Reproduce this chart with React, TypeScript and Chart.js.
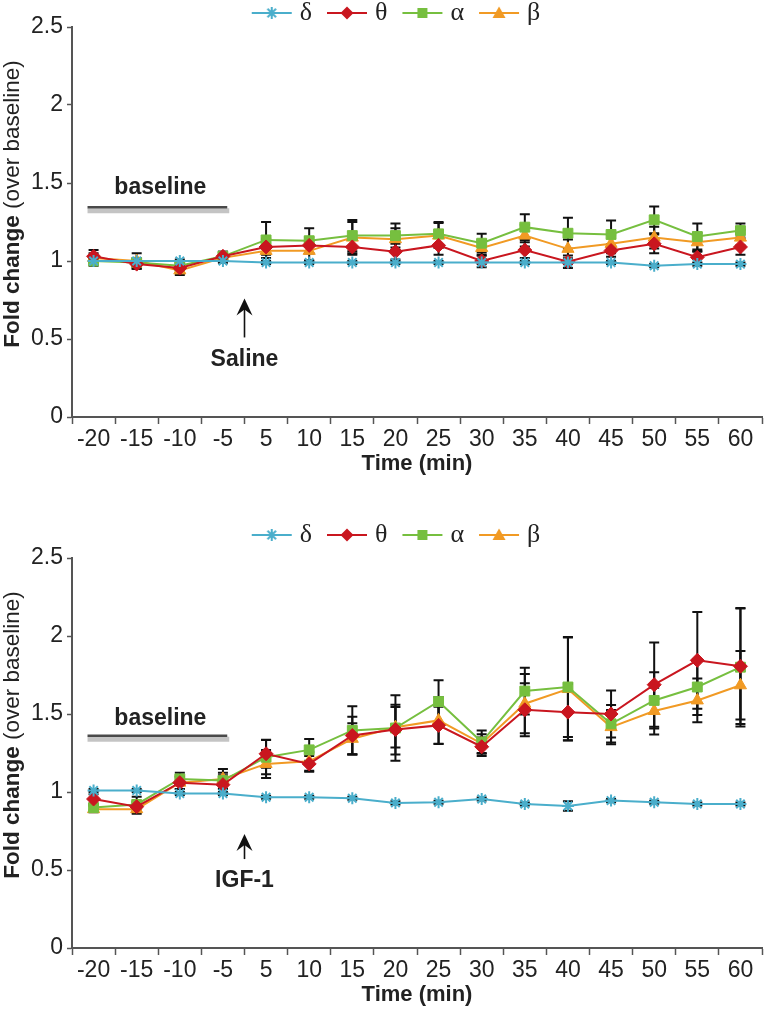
import React, { useEffect, useRef } from 'react';
import { Chart, registerables } from 'chart.js';

Chart.register(...registerables);

const categories = ['-20', '-15', '-10', '-5', '5', '10', '15', '20', '25', '30', '35', '40', '45', '50', '55', '60'];
const seriesLabels = ['δ', 'θ', 'α', 'β'];
const seriesColors = ['#4aaecb', '#c9161f', '#76bf3f', '#f19a24'];
const seriesPointStyles = ['star', 'rectRot', 'rect', 'triangle'];
const seriesPointRadius = [6, 7, 7, 7];

// Saline panel
const salineDelta = [1.0, 1.0, 1.0, 1.0, 0.99, 0.99, 0.99, 0.99, 0.99, 0.99, 0.99, 0.99, 0.99, 0.97, 0.98, 0.98];
const salineTheta = [1.03, 0.98, 0.955, 1.03, 1.09, 1.1, 1.09, 1.06, 1.1, 1.0, 1.07, 0.995, 1.067, 1.11, 1.024, 1.09];
const salineAlpha = [1.0, 0.99, 0.97, 1.03, 1.135, 1.13, 1.163, 1.163, 1.174, 1.114, 1.217, 1.178, 1.17, 1.264, 1.157, 1.195];
const salineBeta = [1.02, 1.0, 0.94, 1.02, 1.065, 1.065, 1.15, 1.14, 1.163, 1.084, 1.163, 1.078, 1.11, 1.15, 1.12, 1.15];
const salineDeltaErr = [0.01, 0.01, 0.01, 0.01, 0.01, 0.01, 0.01, 0.01, 0.01, 0.01, 0.01, 0.01, 0.01, 0.01, 0.01, 0.01];
const salineThetaErr = [0.04, 0.03, 0.03, 0.03, 0.05, 0.05, 0.05, 0.05, 0.06, 0.04, 0.05, 0.04, 0.04, 0.06, 0.04, 0.05];
const salineAlphaErr = [0.03, 0.03, 0.03, 0.03, 0.115, 0.08, 0.1, 0.077, 0.076, 0.06, 0.083, 0.1, 0.09, 0.086, 0.083, 0.045];
const salineBetaErr = [0.03, 0.05, 0.03, 0.03, 0.08, 0.06, 0.1, 0.07, 0.08, 0.05, 0.07, 0.06, 0.06, 0.07, 0.06, 0.05];

// IGF-1 panel
const igfDelta = [1.01, 1.01, 0.99, 0.99, 0.966, 0.966, 0.96, 0.93, 0.934, 0.955, 0.923, 0.91, 0.945, 0.934, 0.923, 0.923];
const igfTheta = [0.955, 0.906, 1.06, 1.047, 1.245, 1.18, 1.362, 1.4, 1.427, 1.29, 1.527, 1.512, 1.5, 1.688, 1.844, 1.806];
const igfAlpha = [0.9, 0.92, 1.084, 1.073, 1.223, 1.27, 1.395, 1.41, 1.58, 1.32, 1.647, 1.673, 1.437, 1.587, 1.673, 1.8];
const igfBeta = [0.89, 0.89, 1.06, 1.084, 1.18, 1.197, 1.341, 1.415, 1.459, 1.31, 1.566, 1.66, 1.416, 1.519, 1.587, 1.684];
const igfDeltaErr = [0.01, 0.01, 0.01, 0.01, 0.01, 0.01, 0.01, 0.01, 0.01, 0.01, 0.01, 0.03, 0.01, 0.01, 0.01, 0.01];
const igfThetaErr = [0.03, 0.03, 0.04, 0.06, 0.09, 0.05, 0.12, 0.16, 0.12, 0.06, 0.17, 0.18, 0.15, 0.27, 0.31, 0.37];
const igfAlphaErr = [0.02, 0.05, 0.04, 0.05, 0.11, 0.07, 0.155, 0.21, 0.136, 0.075, 0.15, 0.32, 0.12, 0.18, 0.18, 0.38];
const igfBetaErr = [0.02, 0.03, 0.04, 0.064, 0.09, 0.06, 0.1, 0.13, 0.15, 0.06, 0.19, 0.33, 0.11, 0.15, 0.14, 0.22];

const yMin = 0;
const yMax = 2.5;
const yStep = 0.5;

const xTitle = 'Time (min)';
const yTitleBold = 'Fold change';
const yTitleNormal = ' (over baseline)';
const baselineText = 'baseline';

const SANS = "'Liberation Sans', Arial, Helvetica, sans-serif";
const SERIF = "'Liberation Serif', 'DejaVu Serif', serif";
const TEXT = '#222';
const AXIS = '#555';

function makeLegendIcon(i: number): HTMLCanvasElement {
  const c = document.createElement('canvas');
  c.width = 64;
  c.height = 20;
  const ctx = c.getContext('2d')!;
  const col = seriesColors[i];
  const cy = 10;
  const cx = 42;
  ctx.strokeStyle = col;
  ctx.fillStyle = col;
  ctx.lineWidth = 2;
  ctx.beginPath();
  ctx.moveTo(22, cy);
  ctx.lineTo(62, cy);
  ctx.stroke();
  const style = seriesPointStyles[i];
  ctx.beginPath();
  if (style === 'star') {
    const r = 6;
    ctx.lineWidth = 2;
    for (let k = 0; k < 4; k++) {
      const a = (k * Math.PI) / 4;
      ctx.moveTo(cx - r * Math.cos(a), cy - r * Math.sin(a));
      ctx.lineTo(cx + r * Math.cos(a), cy + r * Math.sin(a));
    }
    ctx.stroke();
  } else if (style === 'rectRot') {
    const r = 6.5;
    ctx.moveTo(cx, cy - r);
    ctx.lineTo(cx + r, cy);
    ctx.lineTo(cx, cy + r);
    ctx.lineTo(cx - r, cy);
    ctx.closePath();
    ctx.fill();
  } else if (style === 'rect') {
    ctx.rect(cx - 5, cy - 5, 10, 10);
    ctx.fill();
  } else {
    ctx.moveTo(cx, cy - 6.5);
    ctx.lineTo(cx + 6.5, cy + 5);
    ctx.lineTo(cx - 6.5, cy + 5);
    ctx.closePath();
    ctx.fill();
  }
  return c;
}

const errorBarPlugin = {
  id: 'errorBars',
  beforeDatasetsDraw(chart: any, _args: any, opts: any) {
    const errs: number[][] = opts.errors || [];
    const ys = chart.scales.y;
    const ctx = chart.ctx;
    ctx.save();
    ctx.strokeStyle = '#111';
    ctx.lineWidth = 2;
    chart.data.datasets.forEach((ds: any, di: number) => {
      const meta = chart.getDatasetMeta(di);
      const e = errs[di];
      if (!e) return;
      meta.data.forEach((pt: any, j: number) => {
        const v = ds.data[j];
        const top = ys.getPixelForValue(v + e[j]);
        const bot = ys.getPixelForValue(v - e[j]);
        const x = pt.x;
        ctx.beginPath();
        ctx.moveTo(x, top);
        ctx.lineTo(x, bot);
        ctx.moveTo(x - 5, top);
        ctx.lineTo(x + 5, top);
        ctx.moveTo(x - 5, bot);
        ctx.lineTo(x + 5, bot);
        ctx.stroke();
      });
    });
    ctx.restore();
  },
};

const annotationPlugin = {
  id: 'annot',
  afterDraw(chart: any, _args: any, o: any) {
    const ctx = chart.ctx;
    const xs = chart.scales.x;
    const ys = chart.scales.y;
    const step = xs.getPixelForValue(1) - xs.getPixelForValue(0);
    ctx.save();
    // baseline bar
    const bx1 = xs.getPixelForValue(0) - 0.14 * step;
    const bx2 = xs.getPixelForValue(3) + 0.1 * step;
    const by = ys.getPixelForValue(o.baselineLevel);
    ctx.strokeStyle = '#c4c4c4';
    ctx.lineWidth = 5;
    ctx.beginPath();
    ctx.moveTo(bx1, by + 3.5);
    ctx.lineTo(bx2 + 2, by + 3.5);
    ctx.stroke();
    ctx.strokeStyle = '#4a4a4a';
    ctx.lineWidth = 2.5;
    ctx.beginPath();
    ctx.moveTo(bx1, by);
    ctx.lineTo(bx2, by);
    ctx.stroke();
    ctx.fillStyle = TEXT;
    ctx.font = `bold 23px ${SANS}`;
    ctx.textAlign = 'center';
    ctx.textBaseline = 'middle';
    ctx.fillText(baselineText, (bx1 + bx2) / 2 + 3, ys.getPixelForValue(o.baselineTextLevel));
    // arrow
    const ax = (xs.getPixelForValue(3) + xs.getPixelForValue(4)) / 2;
    const tip = ys.getPixelForValue(o.arrowTip);
    const base = ys.getPixelForValue(o.arrowBase);
    ctx.strokeStyle = '#111';
    ctx.lineWidth = 1.6;
    ctx.beginPath();
    ctx.moveTo(ax, tip + 8);
    ctx.lineTo(ax, base);
    ctx.stroke();
    ctx.fillStyle = '#111';
    ctx.beginPath();
    ctx.moveTo(ax, tip);
    ctx.lineTo(ax + 8, tip + 17);
    ctx.lineTo(ax, tip + 11);
    ctx.lineTo(ax - 8, tip + 17);
    ctx.closePath();
    ctx.fill();
    ctx.fillStyle = TEXT;
    ctx.fillText(o.injection, ax, ys.getPixelForValue(o.injectionLevel));
    // y axis title
    const cy = (chart.chartArea.top + chart.chartArea.bottom) / 2 - 18;
    ctx.translate(13, cy);
    ctx.rotate(-Math.PI / 2);
    ctx.font = `bold 22.5px ${SANS}`;
    const w1 = ctx.measureText(yTitleBold).width;
    ctx.font = `22.5px ${SANS}`;
    const w2 = ctx.measureText(yTitleNormal).width;
    const start = -(w1 + w2) / 2;
    ctx.textAlign = 'left';
    ctx.font = `bold 22.5px ${SANS}`;
    ctx.fillText(yTitleBold, start, 0);
    ctx.font = `22.5px ${SANS}`;
    ctx.fillText(yTitleNormal, start + w1, 0);
    ctx.restore();
  },
};

type PanelProps = {
  height: number;
  values: number[][];
  errors: number[][];
  padTop: number;
  padBottom: number;
  legendHeight: number;
  baselineLevel: number;
  baselineTextLevel: number;
  arrowTip: number;
  arrowBase: number;
  injection: string;
  injectionLevel: number;
};

function Panel(p: PanelProps) {
  const ref = useRef<HTMLCanvasElement | null>(null);
  useEffect(() => {
    if (!ref.current) return;
    const icons = seriesLabels.map((_, i) => makeLegendIcon(i));
    const chart = new Chart(ref.current, {
      type: 'line',
      data: {
        labels: categories,
        datasets: seriesLabels.map((lab, i) => ({
          label: lab,
          data: p.values[i],
          borderColor: seriesColors[i],
          backgroundColor: seriesColors[i],
          pointBackgroundColor: seriesColors[i],
          pointBorderColor: seriesColors[i],
          pointStyle: seriesPointStyles[i] as any,
          pointRadius: seriesPointRadius[i],
          pointBorderWidth: seriesPointStyles[i] === 'star' ? 2 : 1,
          borderWidth: 2,
          tension: 0,
        })),
      },
      options: {
        animation: false,
        responsive: false,
        layout: { padding: { left: 10, right: 3, top: p.padTop, bottom: p.padBottom } },
        plugins: {
          tooltip: { enabled: false },
          legend: {
            position: 'top',
            maxHeight: p.legendHeight,
            labels: {
              usePointStyle: true,
              pointStyleWidth: 50,
              padding: 0,
              color: TEXT,
              font: { family: SERIF, size: 26 },
              generateLabels: () =>
                seriesLabels.map((lab, i) => ({
                  text: lab,
                  pointStyle: icons[i] as any,
                  fillStyle: seriesColors[i],
                  strokeStyle: seriesColors[i],
                  lineWidth: 0,
                  hidden: false,
                  datasetIndex: i,
                  fontColor: TEXT,
                })),
            },
          },
          errorBars: { errors: p.errors },
          annot: {
            baselineLevel: p.baselineLevel,
            baselineTextLevel: p.baselineTextLevel,
            arrowTip: p.arrowTip,
            arrowBase: p.arrowBase,
            injection: p.injection,
            injectionLevel: p.injectionLevel,
          },
        } as any,
        scales: {
          x: {
            type: 'category',
            offset: true,
            grid: { offset: true, drawOnChartArea: false, drawTicks: true, tickLength: 7, color: AXIS, tickWidth: 1.5 },
            border: { display: true, color: AXIS, width: 2 },
            ticks: { color: TEXT, font: { family: SANS, size: 23 }, padding: 2, maxRotation: 0, autoSkip: false },
            title: { display: true, text: xTitle, color: TEXT, font: { family: SANS, size: 22, weight: 'bold' }, padding: { top: -5, bottom: 0 } },
          },
          y: {
            min: yMin,
            max: yMax,
            grid: { drawOnChartArea: false, drawTicks: true, tickLength: 5, color: AXIS, tickWidth: 1.5 },
            border: { display: true, color: AXIS, width: 2 },
            ticks: {
              stepSize: yStep,
              color: TEXT,
              font: { family: SANS, size: 23 },
              padding: 4,
              callback: (v: any) => String(Number(v)),
            },
            afterFit: (scale: any) => {
              scale.width = 62;
            },
          },
        },
      },
      plugins: [errorBarPlugin, annotationPlugin],
    });
    return () => chart.destroy();
  }, []);
  return <canvas ref={ref} width={770} height={p.height} style={{ display: 'block' }} />;
}

export default function App() {
  return (
    <div style={{ position: 'absolute', left: 0, top: 0, width: 770, height: 1012, background: '#fff' }}>
      <Panel
        height={490}
        values={[salineDelta, salineTheta, salineAlpha, salineBeta]}
        errors={[salineDeltaErr, salineThetaErr, salineAlphaErr, salineBetaErr]}
        padTop={0}
        padBottom={13}
        legendHeight={27}
        baselineLevel={1.345}
        baselineTextLevel={1.47}
        arrowTip={0.76}
        arrowBase={0.51}
        injection="Saline"
        injectionLevel={0.37}
      />
      <Panel
        height={522}
        values={[igfDelta, igfTheta, igfAlpha, igfBeta]}
        errors={[igfDeltaErr, igfThetaErr, igfAlphaErr, igfBetaErr]}
        padTop={32}
        padBottom={4}
        legendHeight={38}
        baselineLevel={1.36}
        baselineTextLevel={1.47}
        arrowTip={0.73}
        arrowBase={0.57}
        injection="IGF-1"
        injectionLevel={0.43}
      />
    </div>
  );
}
